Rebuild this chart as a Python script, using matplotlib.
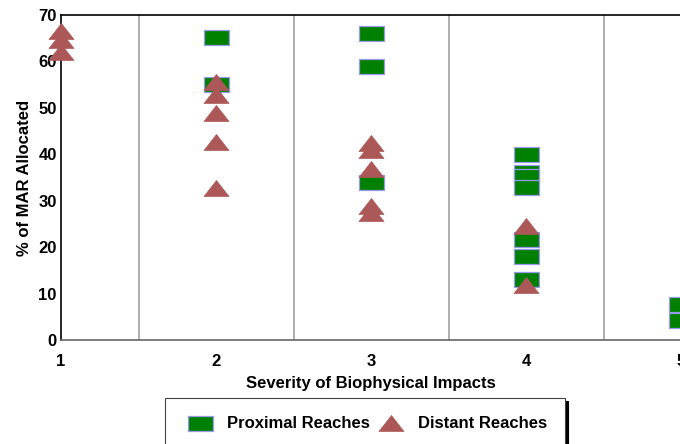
import matplotlib.pyplot as plt
from matplotlib.path import Path

plt.rcParams['font.family'] = ['Liberation Sans', 'DejaVu Sans']
plt.rcParams['font.weight'] = 'bold'

# Proximal reaches (squares)
prox_x = [2, 2, 3, 3, 3, 4, 4, 4, 4, 4, 4, 4, 5, 5]
prox_y = [65.2, 55.1, 66.1, 59.0, 34.0, 40.0, 36.2, 35.3, 33.0, 21.7, 18.1, 13.1, 7.8, 4.4]

# Distant reaches (triangles)
dist_x = [1, 1, 1, 2, 2, 2, 2, 2, 3, 3, 3, 3, 3, 4, 4]
dist_y = [66.5, 64.6, 62.0, 55.6, 52.8, 48.9, 42.6, 32.7, 42.4, 40.9, 36.8, 28.8, 27.4, 24.5, 11.8]

yticks = [0, 10, 20, 30, 40, 50, 60, 70]
xticks = [1, 2, 3, 4, 5]
dividers = [1.5, 2.5, 3.5, 4.5]

rect = Path([(-1, -0.6), (1, -0.6), (1, 0.6), (-1, 0.6), (-1, -0.6)],
            [Path.MOVETO, Path.LINETO, Path.LINETO, Path.LINETO, Path.CLOSEPOLY])
tri = Path([(0, 0.64), (-1, -0.64), (1, -0.64), (0, 0.64)],
           [Path.MOVETO, Path.LINETO, Path.LINETO, Path.CLOSEPOLY])

fig = plt.figure(figsize=(6.8, 4.44), dpi=100)
ax = fig.add_axes([61 / 680, 104 / 444, 620 / 680, 325 / 444])

for d in dividers:
    ax.axvline(d, color='#a8a8a8', lw=1.3, zorder=1)

ax.plot(prox_x, prox_y, ls='none', marker=rect, markersize=18,
        markerfacecolor='#008000', markeredgecolor='#9999ee', markeredgewidth=0.9,
        clip_on=False, zorder=3, label='Proximal Reaches')
ax.plot(dist_x, dist_y, ls='none', marker=tri, markersize=18,
        markerfacecolor='#ad5858', markeredgecolor='#ad5858', markeredgewidth=0.5,
        clip_on=False, zorder=4, label='Distant Reaches')

ax.set_xlim(1, 5)
ax.set_ylim(0, 70)
ax.set_xticks(xticks)
ax.set_yticks(yticks)
ax.tick_params(axis='x', length=0, pad=10, labelsize=12)
ax.tick_params(axis='y', length=0, pad=3, labelsize=12)

ax.spines['right'].set_visible(False)
ax.spines['left'].set_color('black')
ax.spines['top'].set_color('black')
ax.spines['bottom'].set_color('#666666')
for s in ['left', 'top', 'bottom']:
    ax.spines[s].set_linewidth(1.2)

ax.set_xlabel('Severity of Biophysical Impacts', fontsize=12, fontweight='bold', labelpad=5)
ax.set_ylabel('% of MAR Allocated', fontsize=12, fontweight='bold', labelpad=5)

leg = fig.legend(loc='upper center', bbox_to_anchor=(365 / 680, 1 - 398 / 444),
                 ncol=2, frameon=True, fancybox=False, borderaxespad=0,
                 shadow={'ox': 2, 'oy': -2, 'color': 'black', 'alpha': 1},
                 prop={'weight': 'bold', 'size': 12}, borderpad=1.1,
                 handlelength=2.0, handletextpad=0.6, columnspacing=0.3)
leg.get_frame().set_edgecolor('#444444')
leg.get_frame().set_linewidth(0.8)

fig.savefig('out.png', dpi=100)
